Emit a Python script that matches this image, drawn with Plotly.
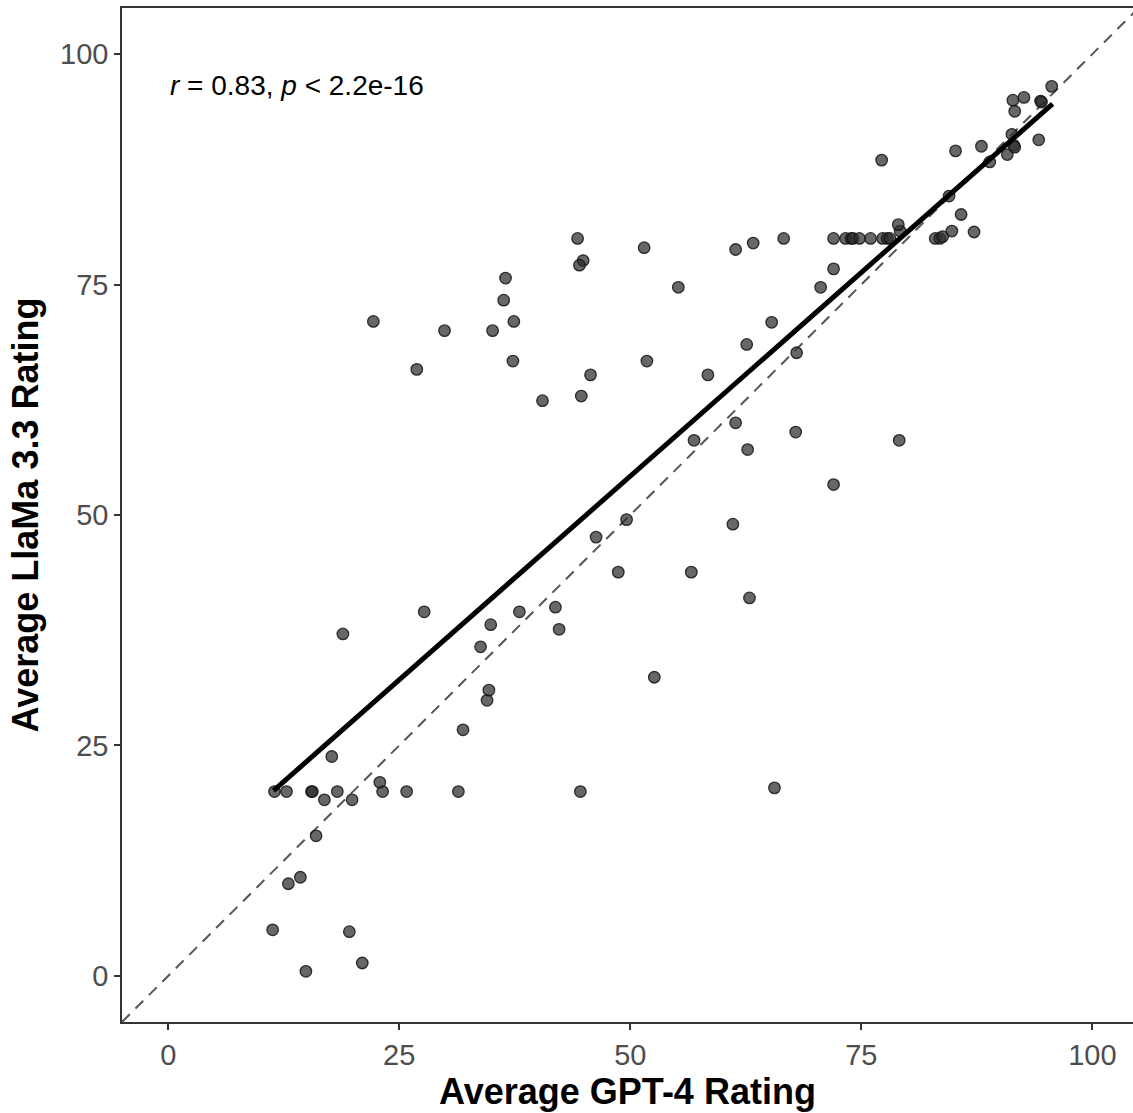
import plotly.graph_objects as go

# Average GPT-4 rating (x) and Average LlaMa 3.3 rating (y)
gpt4 = [11.5, 12.8, 15.5, 15.6, 18.3, 23.2, 25.8, 31.4, 44.6, 65.6,
        17.7, 16.9, 19.9, 22.9, 16.0, 14.3, 13.0, 11.3, 19.6, 14.9, 21.0,
        31.9, 34.5, 34.7, 33.8, 34.9, 18.9, 27.7, 38.0, 41.9, 42.3, 52.6,
        48.7, 56.6, 62.9, 46.3, 49.6, 61.1, 72.0, 56.9, 62.7, 79.1, 61.4,
        67.9, 40.5, 44.7, 45.7, 58.4, 26.9, 37.3, 51.8, 62.6, 68.0, 22.2,
        29.9, 35.1, 37.4, 65.3, 36.3, 36.5, 55.2, 70.6, 72.0, 44.3, 44.9,
        44.5, 51.5, 61.4, 63.3, 66.6,
        72.0, 73.3, 73.9, 74.1, 74.8, 76.0, 77.3, 77.8, 78.1, 83.0, 83.5,
        83.8, 79.2, 79.0, 84.8, 85.8, 87.2, 84.5, 77.2, 85.2, 88.0, 88.9,
        90.8, 91.5, 91.6, 91.3, 94.2, 91.4, 91.6, 92.6, 94.4, 94.5, 95.6]
llama = [20.0, 20.0, 20.0, 20.0, 20.0, 20.0, 20.0, 20.0, 20.0, 20.4,
         23.8, 19.1, 19.1, 21.0, 15.2, 10.7, 10.0, 5.0, 4.8, 0.5, 1.4,
         26.7, 29.9, 31.0, 35.7, 38.1, 37.1, 39.5, 39.5, 40.0, 37.6, 32.4,
         43.8, 43.8, 41.0, 47.6, 49.5, 49.0, 53.3, 58.1, 57.1, 58.1, 60.0,
         59.0, 62.4, 62.9, 65.2, 65.2, 65.8, 66.7, 66.7, 68.5, 67.6, 71.0,
         70.0, 70.0, 71.0, 70.9, 73.3, 75.7, 74.7, 74.7, 76.7, 80.0, 77.6,
         77.1, 79.0, 78.8, 79.5, 80.0,
         80.0, 80.0, 80.0, 80.0, 80.0, 80.0, 80.0, 80.0, 80.0, 80.0, 80.0,
         80.2, 80.8, 81.5, 80.8, 82.6, 80.7, 84.6, 88.5, 89.5, 90.0, 88.3,
         89.1, 90.1, 89.9, 91.3, 90.7, 95.0, 93.8, 95.3, 94.9, 94.8, 96.5]

# linear fit endpoints (as drawn in the reference)
fit_x = [11.4, 95.7]
fit_y = [20.1, 94.6]

# identity reference line
ident = [-5, 110]

tick_vals = [0, 25, 50, 75, 100]
tick_text = ["0", "25", "50", "75", "100"]

FONT = "Liberation Sans, Arial, Helvetica, sans-serif"

fig = go.Figure()
fig.add_trace(go.Scatter(x=ident, y=ident, mode="lines",
                         line=dict(color="#555555", width=2, dash="11px,8px"),
                         hoverinfo="skip", showlegend=False))
fig.add_trace(go.Scatter(x=gpt4, y=llama, mode="markers",
                         marker=dict(size=11.5, color="rgba(45,45,45,0.72)",
                                     line=dict(color="rgba(20,20,20,0.85)", width=1.3)),
                         showlegend=False))
fig.add_trace(go.Scatter(x=fit_x, y=fit_y, mode="lines",
                         line=dict(color="black", width=5),
                         showlegend=False))

fig.add_annotation(x=0.0, y=96.6, xref="x", yref="y", xanchor="left", yanchor="middle",
                   text="<i>r</i> = 0.83, <i>p</i> &lt; 2.2e-16",
                   showarrow=False,
                   font=dict(family=FONT, size=28, color="black"))

axis_common = dict(
    tickvals=tick_vals, ticktext=tick_text,
    showgrid=False, zeroline=False,
    showline=True, linecolor="#333333", linewidth=1.5,
    ticks="outside", ticklen=6, tickwidth=1.5, tickcolor="#333333",
    tickfont=dict(family=FONT, size=29, color="#4d4d4d"),
)

fig.update_layout(
    width=1133, height=1113,
    margin=dict(l=122, r=0, t=8, b=91),
    plot_bgcolor="white", paper_bgcolor="white",
    xaxis=dict(range=[-5, 104.4], mirror=True,
               title=dict(text="<b>Average GPT-4 Rating</b>", standoff=0,
                          font=dict(family=FONT, size=36, color="black")),
               **axis_common),
    yaxis=dict(range=[-5, 105],
               title=dict(text="<b>Average LlaMa 3.3 Rating</b>", standoff=10,
                          font=dict(family=FONT, size=36, color="black")),
               **axis_common),
)

fig.write_html("out.html")
